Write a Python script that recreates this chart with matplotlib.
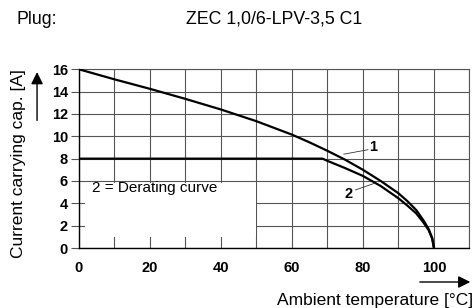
import matplotlib.pyplot as plt
from matplotlib.patches import Rectangle

plt.rcParams['font.family'] = ['Liberation Sans', 'DejaVu Sans']

# curve 1: current carrying capacity
temp_1 = [0, 10, 20, 30, 40, 50, 60, 65, 70, 75, 80, 85, 90, 92.5, 95, 97, 98.5, 99.5, 100]
curr_1 = [16, 15.1, 14.25, 13.35, 12.4, 11.35, 10.15, 9.45, 8.7, 7.9, 7.0, 6.0, 4.9, 4.2, 3.4, 2.5, 1.7, 0.9, 0]

# curve 2: derating curve
temp_2 = [0, 68.6, 70, 75, 80, 85, 90, 92.5, 95, 97, 98.5, 99.5, 100]
curr_2 = [8, 8, 7.8, 7.15, 6.45, 5.55, 4.45, 3.8, 3.1, 2.3, 1.6, 0.85, 0]

x_ticks = [0, 20, 40, 60, 80, 100]
y_ticks = [0, 2, 4, 6, 8, 10, 12, 14, 16]

fig = plt.figure(figsize=(4.75, 3.08), dpi=100)
ax = fig.add_axes([0.1663, 0.1948, 0.822, 0.5802])

ax.set_xlim(0, 110)
ax.set_ylim(0, 16)
ax.set_axisbelow(True)

grid_col = '#555555'
ax.set_xticks(range(0, 111, 10), minor=False)
ax.set_yticks(y_ticks)
ax.grid(True, color=grid_col, linewidth=0.8)

# only every 20 labelled
ax.set_xticklabels([str(v) if v in x_ticks else '' for v in range(0, 111, 10)],
                   fontweight='bold', fontsize=10.5)
ax.set_yticklabels([str(v) for v in y_ticks], fontweight='bold', fontsize=10.5)
ax.set_xticks([0, 50, 110], minor=True)
ax.tick_params(axis='x', which='major', length=0, pad=9)
ax.tick_params(axis='x', which='minor', length=5, width=0.8, color=grid_col)
ax.tick_params(axis='y', length=6, width=0.8, color=grid_col, pad=2)

for s in ['top', 'right']:
    ax.spines[s].set_color(grid_col)
    ax.spines[s].set_linewidth(0.8)
for s in ['left', 'bottom']:
    ax.spines[s].set_linewidth(1.0)

# white box behind the legend text
ax.add_patch(Rectangle((1.8, 1.0), 48.1, 4.8, facecolor='white',
                       edgecolor='none', zorder=1))
ax.text(3.8, 5.35, '2 = Derating curve', fontsize=11, va='center', ha='left', zorder=3)

ax.plot(temp_1, curr_1, color='black', linewidth=1.6, zorder=4)
ax.plot(temp_2, curr_2, color='black', linewidth=1.6, zorder=4)

# curve numbers with leader lines
ax.plot([74.6, 81.4], [8.4, 8.8], color='#333333', linewidth=0.6, zorder=4)
ax.text(83.0, 9.0, '1', fontsize=10.5, fontweight='bold', va='center', ha='center')
ax.plot([77.9, 83.3], [5.2, 5.8], color='#333333', linewidth=0.6, zorder=4)
ax.text(76.0, 4.8, '2', fontsize=10.5, fontweight='bold', va='center', ha='center')

# header
fig.text(0.034, 0.938, 'Plug:', fontsize=12.8, va='center', ha='left')
fig.text(0.391, 0.938, 'ZEC 1,0/6-LPV-3,5 C1', fontsize=12.8, va='center', ha='left')

# axis labels with arrows
fig.text(0.038, 0.469, 'Current carrying cap. [A]', fontsize=12.5, rotation=90,
         va='center', ha='center')
fig.text(0.996, 0.023, 'Ambient temperature [°C]', fontsize=12.5, va='center', ha='right')
arrow_kw = dict(arrowstyle='-|>', color='black', lw=1.0, mutation_scale=18)
ax.annotate('', xy=(0.078, 0.775), xytext=(0.078, 0.60),
            xycoords='figure fraction', textcoords='figure fraction',
            arrowprops=arrow_kw, annotation_clip=False)
ax.annotate('', xy=(0.996, 0.0844), xytext=(0.878, 0.0844),
            xycoords='figure fraction', textcoords='figure fraction',
            arrowprops=arrow_kw, annotation_clip=False)

fig.savefig('out.png', dpi=100)
